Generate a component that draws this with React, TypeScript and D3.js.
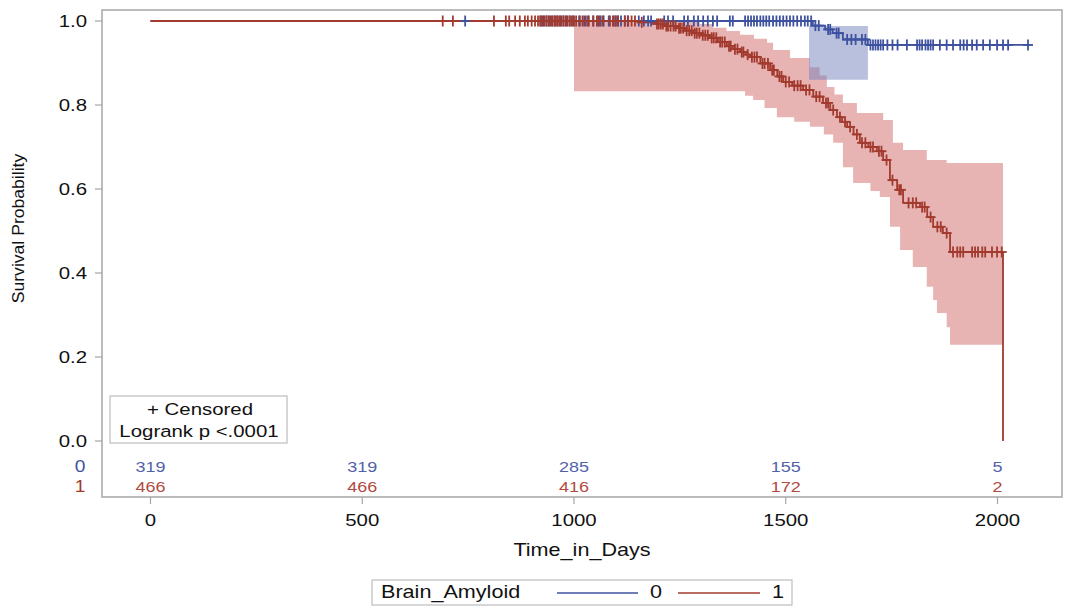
import React from "react";
import * as d3 from "d3";

// ---- data ----
const blueTimes = [0, 1564, 1593, 1611, 1635, 1694, 2077];
const blueSurv = [1.0, 0.989, 0.98, 0.971, 0.956, 0.943, 0.943];

const redTimes = [0, 1150, 1196, 1215, 1243, 1262, 1281, 1300, 1321, 1340, 1361, 1375, 1392, 1405, 1416, 1440, 1463, 1480, 1494, 1515, 1541, 1565, 1588, 1605, 1621, 1633, 1645, 1660, 1675, 1695, 1715, 1730, 1746, 1763, 1777, 1817, 1834, 1848, 1871, 1888, 2013];
const redSurv = [1.0, 0.997, 0.993, 0.988, 0.983, 0.977, 0.971, 0.966, 0.96, 0.95, 0.94, 0.933, 0.926, 0.92, 0.914, 0.899, 0.883, 0.868, 0.855, 0.846, 0.836, 0.82, 0.805, 0.788, 0.771, 0.76, 0.748, 0.73, 0.71, 0.7, 0.69, 0.669, 0.621, 0.598, 0.567, 0.557, 0.533, 0.51, 0.495, 0.45, 0.0];

const blueBandTimes = [1555];
const blueBandUpper = [0.988];
const blueBandLower = [0.86];
const blueBandEnd = 1694;

const redUpperTimes = [1000, 1297, 1328, 1360, 1392, 1425, 1456, 1470, 1510, 1557, 1580, 1597, 1615, 1635, 1668, 1730, 1753, 1777, 1833, 1880];
const redUpperVals = [1.0, 0.993, 0.984, 0.976, 0.967, 0.958, 0.948, 0.931, 0.912, 0.89, 0.87, 0.843, 0.825, 0.805, 0.781, 0.764, 0.71, 0.693, 0.669, 0.662];
const redLowerTimes = [1000, 1404, 1423, 1450, 1479, 1520, 1557, 1590, 1612, 1635, 1659, 1700, 1722, 1746, 1770, 1800, 1833, 1848, 1857, 1880, 1888];
const redLowerVals = [0.833, 0.822, 0.812, 0.793, 0.771, 0.76, 0.748, 0.73, 0.71, 0.652, 0.614, 0.595, 0.581, 0.51, 0.455, 0.414, 0.367, 0.336, 0.305, 0.271, 0.229];
const redBandEnd = 2013;

const blueCensor = [743, 922, 928, 935, 941, 948, 955, 961, 968, 975, 982, 990, 998, 1012, 1024, 1033, 1045, 1057, 1063, 1070, 1082, 1094, 1099, 1104, 1111, 1120, 1127, 1153, 1165, 1175, 1182, 1213, 1222, 1234, 1260, 1269, 1283, 1293, 1305, 1316, 1328, 1338, 1368, 1375, 1404, 1411, 1418, 1425, 1432, 1440, 1447, 1454, 1461, 1470, 1478, 1486, 1494, 1502, 1510, 1518, 1527, 1536, 1545, 1552, 1560, 1570, 1578, 1600, 1605, 1620, 1625, 1645, 1655, 1665, 1680, 1688, 1700, 1706, 1712, 1718, 1724, 1730, 1740, 1752, 1764, 1786, 1810, 1816, 1822, 1830, 1836, 1842, 1848, 1864, 1880, 1895, 1912, 1920, 1928, 1940, 1951, 1966, 1982, 1999, 2013, 2025, 2072];

const redCensor = [690, 714, 811, 839, 847, 861, 872, 884, 891, 900, 908, 915, 920, 925, 930, 935, 940, 945, 950, 955, 960, 965, 970, 975, 980, 985, 990, 995, 1000, 1005, 1014, 1020, 1028, 1035, 1046, 1054, 1060, 1068, 1085, 1092, 1098, 1104, 1120, 1128, 1136, 1144, 1160, 1196, 1200, 1205, 1210, 1218, 1222, 1228, 1235, 1240, 1248, 1252, 1258, 1266, 1272, 1278, 1285, 1290, 1296, 1304, 1310, 1316, 1325, 1330, 1336, 1345, 1350, 1356, 1366, 1370, 1380, 1386, 1396, 1400, 1410, 1420, 1426, 1432, 1445, 1450, 1458, 1468, 1472, 1485, 1490, 1500, 1508, 1520, 1528, 1535, 1548, 1556, 1572, 1580, 1595, 1600, 1612, 1628, 1640, 1652, 1668, 1680, 1688, 1700, 1706, 1720, 1726, 1738, 1752, 1768, 1772, 1790, 1800, 1808, 1822, 1828, 1842, 1858, 1866, 1880, 1895, 1905, 1912, 1919, 1940, 1947, 1954, 1964, 1971, 1987, 1999, 2010];

const xTicks = [0, 500, 1000, 1500, 2000];
const yTicks = [0, 0.2, 0.4, 0.6, 0.8, 1.0];
const riskTimes = [0, 500, 1000, 1500, 2000];
const risk0 = [319, 319, 285, 155, 5];
const risk1 = [466, 466, 416, 172, 2];
const groupLabels = ["0", "1"];

const BLUE = "#3F52A0";
const RED = "#A23A2E";
const FONT = "'Liberation Sans', Arial, sans-serif";
const SX = 1.2; // horizontal stretch of the reference's text

// ---- layout ----
const frame = { left: 102, top: 10, right: 1062, bottom: 497 };
const x = d3.scaleLinear().domain([0, 2000]).range([150.5, 997.5]);
const y = d3.scaleLinear().domain([0, 1]).range([441, 21]);

function stepPts(times: number[], vals: number[], end: number): [number, number][] {
  const pts: [number, number][] = [];
  for (let i = 0; i < times.length; i++) {
    if (i > 0) pts.push([times[i], vals[i - 1]]);
    pts.push([times[i], vals[i]]);
  }
  pts.push([end, vals[vals.length - 1]]);
  return pts;
}

function bandPath(tU: number[], vU: number[], tL: number[], vL: number[], end: number) {
  const up = stepPts(tU, vU, end);
  const lo = stepPts(tL, vL, end).reverse();
  const line = d3.line<[number, number]>().x((d) => x(d[0])).y((d) => y(d[1]));
  return line(up.concat(lo)) + "Z";
}

function survAt(times: number[], vals: number[], t: number) {
  const i = d3.bisectRight(times, t) - 1;
  return vals[Math.max(0, Math.min(i, vals.length - 1))];
}

function curvePath(times: number[], vals: number[]) {
  const l = d3
    .line<number>()
    .x((d, i) => x(times[i]))
    .y((d) => y(d))
    .curve(d3.curveStepAfter);
  return l(vals) || "";
}

function Censor({ times, st, sv, color }: { times: number[]; st: number[]; sv: number[]; color: string }) {
  return (
    <g stroke={color} strokeWidth={1.8}>
      {times.map((t, i) => {
        const cx = x(t);
        const cy = y(survAt(st, sv, t));
        return (
          <g key={i}>
            <line x1={cx - 5} x2={cx + 5} y1={cy} y2={cy} />
            <line x1={cx} x2={cx} y1={cy - 5.5} y2={cy + 5.5} />
          </g>
        );
      })}
    </g>
  );
}

function T({
  x: tx,
  y: ty,
  size,
  anchor = "start",
  fill = "#111",
  children,
}: {
  x: number;
  y: number;
  size: number;
  anchor?: string;
  fill?: string;
  children: React.ReactNode;
}) {
  return (
    <text
      transform={`translate(${tx},${ty}) scale(${SX},1)`}
      textAnchor={anchor as any}
      fontSize={size}
      fill={fill}
    >
      {children}
    </text>
  );
}

export default function App() {
  return (
    <svg
      width={1068}
      height={607}
      style={{ position: "absolute", left: 0, top: 0, background: "#fff", fontFamily: FONT }}
    >
      <rect x={0} y={0} width={1068} height={607} fill="#fff" />
      {/* bands */}
      <path d={bandPath(redUpperTimes, redUpperVals, redLowerTimes, redLowerVals, redBandEnd)} fill="#D16767" fillOpacity={0.5} />
      <path d={bandPath(blueBandTimes, blueBandUpper, blueBandTimes, blueBandLower, blueBandEnd)} fill="#7381BD" fillOpacity={0.5} />
      {/* curves */}
      <path d={curvePath(blueTimes, blueSurv)} fill="none" stroke={BLUE} strokeWidth={1.8} />
      <path d={curvePath(redTimes, redSurv)} fill="none" stroke={RED} strokeWidth={1.8} />
      <Censor times={blueCensor} st={blueTimes} sv={blueSurv} color={BLUE} />
      <Censor times={redCensor} st={redTimes} sv={redSurv} color={RED} />

      {/* frame */}
      <rect
        x={frame.left}
        y={frame.top}
        width={frame.right - frame.left}
        height={frame.bottom - frame.top}
        fill="none"
        stroke="#A6A6A6"
        strokeWidth={1.5}
      />
      {/* y axis */}
      {yTicks.map((v) => (
        <g key={v}>
          <line x1={frame.left - 7} x2={frame.left} y1={y(v)} y2={y(v)} stroke="#A6A6A6" strokeWidth={1.2} />
          <T x={frame.left - 15} y={y(v) + 6} size={17} anchor="end">
            {v.toFixed(1)}
          </T>
        </g>
      ))}
      <text
        transform={`translate(24, ${(frame.top + 441) / 2 + 3}) rotate(-90) scale(1.1,1)`}
        textAnchor="middle"
        fontSize={16}
        fill="#111"
      >
        Survival Probability
      </text>
      {/* x axis */}
      {xTicks.map((v) => (
        <g key={v}>
          <line x1={x(v)} x2={x(v)} y1={frame.bottom} y2={frame.bottom + 7} stroke="#A6A6A6" strokeWidth={1.2} />
          <T x={x(v)} y={frame.bottom + 29} size={17} anchor="middle">
            {v}
          </T>
        </g>
      ))}
      <T x={582} y={556} size={18} anchor="middle">
        Time_in_Days
      </T>

      {/* risk table */}
      <T x={80} y={472} size={16} anchor="middle" fill={BLUE}>
        {groupLabels[0]}
      </T>
      <T x={80} y={492} size={16} anchor="middle" fill={RED}>
        {groupLabels[1]}
      </T>
      {riskTimes.map((t, i) => (
        <g key={t}>
          <T x={x(t)} y={472} size={15} anchor="middle" fill="#5262AA">
            {risk0[i]}
          </T>
          <T x={x(t)} y={492} size={15} anchor="middle" fill="#B24A40">
            {risk1[i]}
          </T>
        </g>
      ))}

      {/* inset box */}
      <rect x={110} y={396} width={177} height={47} fill="#fff" stroke="#BDBDBD" strokeWidth={1.2} />
      <T x={200} y={415} size={17} anchor="middle">
        + Censored
      </T>
      <T x={199} y={437} size={17} anchor="middle">
        Logrank p &lt;.0001
      </T>

      {/* legend */}
      <rect x={372} y={580} width={420} height={25} fill="#fff" stroke="#BDBDBD" strokeWidth={1.2} />
      <T x={381} y={598} size={18}>
        Brain_Amyloid
      </T>
      <line x1={557} x2={638} y1={593} y2={593} stroke={BLUE} strokeWidth={1.5} />
      <T x={650} y={598} size={18}>
        {groupLabels[0]}
      </T>
      <line x1={678} x2={760} y1={593} y2={593} stroke={RED} strokeWidth={1.5} />
      <T x={772} y={598} size={18}>
        {groupLabels[1]}
      </T>
    </svg>
  );
}
